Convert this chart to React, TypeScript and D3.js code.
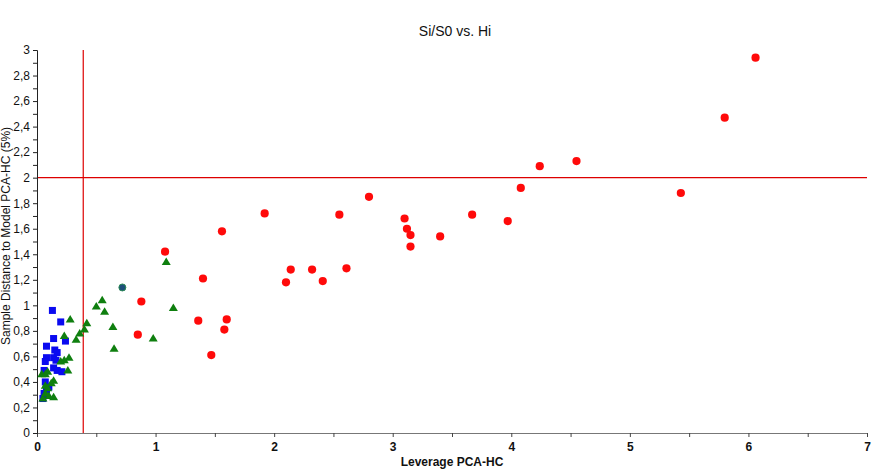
import { useEffect, useRef } from "react";
import { axisBottom, axisLeft, scaleLinear, select, range } from "d3";

// Leverage (x) and distance (y) for each group
const redX = [1.08, 1.56, 1.40, 0.88, 0.85, 1.36, 1.60, 1.58, 1.47, 1.92, 2.14, 2.10, 2.32, 2.41, 2.61, 2.55, 2.80, 3.10, 3.12, 3.15, 3.15, 3.40, 3.67, 3.97, 4.08, 4.24, 4.55, 5.43, 5.80, 6.06];
const redY = [1.42, 1.58, 1.21, 1.03, 0.77, 0.88, 0.89, 0.81, 0.61, 1.72, 1.28, 1.18, 1.28, 1.19, 1.29, 1.71, 1.85, 1.68, 1.60, 1.55, 1.46, 1.54, 1.71, 1.66, 1.92, 2.09, 2.13, 1.88, 2.47, 2.94];

const greenX = [0.55, 0.50, 0.57, 0.28, 0.42, 0.40, 0.64, 0.36, 0.33, 0.98, 0.65, 1.09, 1.15, 0.23, 0.27, 0.23, 0.20, 0.26, 0.04, 0.07, 0.09, 0.14, 0.12, 0.07, 0.09, 0.10, 0.14, 0.05, 0.07];
const greenY = [1.04, 0.99, 0.95, 0.89, 0.86, 0.81, 0.83, 0.78, 0.73, 0.74, 0.66, 1.34, 0.98, 0.76, 0.59, 0.57, 0.56, 0.49, 0.46, 0.46, 0.48, 0.41, 0.39, 0.37, 0.35, 0.29, 0.28, 0.27, 0.31];

const blueX = [0.13, 0.20, 0.14, 0.24, 0.08, 0.15, 0.17, 0.08, 0.14, 0.07, 0.16, 0.14, 0.17, 0.21, 0.06, 0.07, 0.10, 0.08, 0.06, 0.05];
const blueY = [0.96, 0.87, 0.74, 0.72, 0.68, 0.65, 0.63, 0.59, 0.59, 0.56, 0.57, 0.51, 0.49, 0.48, 0.49, 0.40, 0.36, 0.34, 0.31, 0.27];

const tealX = [0.72];
const tealY = [1.14];

const leverageLimit = 0.39;
const distanceLimit = 2;

const fmt = (v: number) => String(Math.round(v * 10) / 10).replace(".", ",");

export default function App() {
    const xRef = useRef<SVGGElement>(null);
    const yRef = useRef<SVGGElement>(null);

    const width = 876;
    const height = 476;
    const margin = { top: 50, right: 9, bottom: 43, left: 37 };

    const x = scaleLinear().domain([0, 7]).range([margin.left, width - margin.right]);
    const y = scaleLinear().domain([0, 3]).range([height - margin.bottom, margin.top]);

    useEffect(() => {
        if (xRef.current) {
            const g = select(xRef.current);
            g.selectAll("*").remove();
            g.call(axisBottom(x).tickValues(range(0, 7.01, 0.5)).tickSize(4).tickFormat((d) => (Number(d) % 1 === 0 ? String(d) : "")));
            g.select(".domain").attr("stroke", "#777");
            g.selectAll(".tick line").attr("stroke", "#444");
            g.selectAll("text")
                .attr("font-family", "Liberation Sans, Arial, sans-serif")
                .attr("font-size", 12)
                .attr("font-weight", "bold")
                .attr("fill", "#111")
                .attr("dy", "0.9em");
        }
        if (yRef.current) {
            const g = select(yRef.current);
            g.selectAll("*").remove();
            g.call(axisLeft(y).tickValues(range(0, 3.01, 0.1)).tickSize(4).tickFormat((d) => {
                const v = Math.round(Number(d) * 10);
                return v % 2 === 0 ? fmt(Number(d)) : "";
            }));
            g.select(".domain").attr("stroke", "#222");
            g.selectAll(".tick line").attr("stroke", "#222");
            g.selectAll("text")
                .attr("font-family", "Liberation Sans, Arial, sans-serif")
                .attr("font-size", 12)
                .attr("fill", "#111");
        }
    }, []);

    const tri = (cx: number, cy: number) => `M${cx},${cy - 4.5} L${cx + 4.5},${cy + 3} L${cx - 4.5},${cy + 3} Z`;

    return (
        <svg width={width} height={height} style={{ position: "absolute", left: 0, top: 0, background: "#fff" }}>
            <text x={455} y={36} textAnchor="middle" fontFamily="Liberation Sans, Arial, sans-serif" fontSize={14} fill="#111">
                Si/S0 vs. Hi
            </text>
            <line x1={x(leverageLimit)} x2={x(leverageLimit)} y1={y(3)} y2={y(0)} stroke="#dd0000" strokeWidth={1.2} />
            <line x1={x(0)} x2={x(7)} y1={y(distanceLimit)} y2={y(distanceLimit)} stroke="#dd0000" strokeWidth={1.2} />
            <g ref={xRef} transform={`translate(0, ${y(0)})`} />
            <g ref={yRef} transform={`translate(${x(0)}, 0)`} />
            {blueX.map((v, i) => (
                <rect key={`b${i}`} x={x(v) - 3.5} y={y(blueY[i]) - 3.5} width={7} height={7} fill="#0a0af0" />
            ))}
            {greenX.map((v, i) => (
                <path key={`g${i}`} d={tri(x(v), y(greenY[i]))} fill="#0f7f0f" />
            ))}
            {redX.map((v, i) => (
                <circle key={`r${i}`} cx={x(v)} cy={y(redY[i])} r={4.1} fill="#ff0a0a" />
            ))}
            {tealX.map((v, i) => (
                <circle key={`t${i}`} cx={x(v)} cy={y(tealY[i])} r={3.5} fill="#1d4f7a" stroke="#2e8b57" strokeWidth={1} />
            ))}
            <text x={x(3.5)} y={466} textAnchor="middle" fontFamily="Liberation Sans, Arial, sans-serif" fontSize={12} fontWeight="bold" fill="#111">
                Leverage PCA-HC
            </text>
            <text transform={`translate(10, 236) rotate(-90)`} textAnchor="middle" fontFamily="Liberation Sans, Arial, sans-serif" fontSize={12} fill="#111">
                Sample Distance to Model  PCA-HC (5%)
            </text>
        </svg>
    );
}
